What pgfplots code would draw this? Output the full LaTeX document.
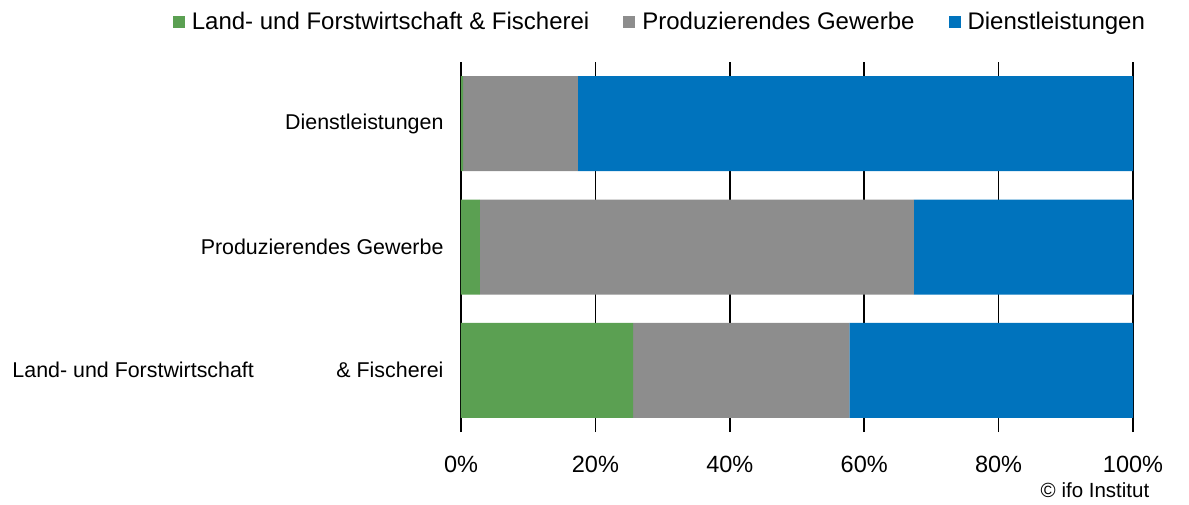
\documentclass[border=0pt]{standalone}
\usepackage{pgfplots}
\pgfplotsset{compat=1.18}
\usepackage{fontspec}
\setmainfont{Liberation Sans}
\definecolor{cgreen}{RGB}{91,160,82}
\definecolor{cgray}{RGB}{141,141,141}
\definecolor{cblue}{RGB}{0,115,189}
\begin{document}
\begin{tikzpicture}[x=1pt,y=1pt]
\useasboundingbox (0,0) rectangle (1189,-505);
\begin{axis}[
  at={(461pt,-432pt)}, anchor=south west,
  scale only axis, width=672pt, height=370pt,
  xbar stacked, bar width=95pt,
  xmin=0, xmax=100, ymin=-0.5, ymax=2.5,
  xtick={0,20,40,60,80,100},
  xticklabels={0\%,20\%,40\%,60\%,80\%,100\%},
  ytick={0,1,2},
  yticklabels={{\makebox[431pt][l]{Land- und Forstwirtschaft\hfill\& Fischerei}},Produzierendes Gewerbe,Dienstleistungen},
  major tick length=0pt,
  xmajorgrids, grid style={black, line width=1.6pt},
  axis line style={draw=none},
  xticklabel style={font=\fontsize{23.5}{26}\selectfont, yshift=-21pt},
  yticklabel style={font=\fontsize{21.4}{24}\selectfont, anchor=east, xshift=-14pt},
  legend columns=-1,
  legend style={draw=none, fill=none, at={(0.296,1.108)}, anchor=center,
    font=\fontsize{24}{27}\selectfont,
    /tikz/every even column/.append style={column sep=32pt},
    /tikz/every odd column/.append style={column sep=5pt},
    inner sep=0pt},
  legend image code/.code={\fill[#1] (0pt,-6pt) rectangle (12pt,6pt);},
]
\addplot[fill=cgreen, draw=none] coordinates {(25.6,0) (2.8,1) (0.3,2)};
\addplot[fill=cgray, draw=none] coordinates {(32.2,0) (64.6,1) (17.1,2)};
\addplot[fill=cblue, draw=none] coordinates {(42.2,0) (32.6,1) (82.6,2)};
\legend{Land- und Forstwirtschaft \& Fischerei,Produzierendes Gewerbe,Dienstleistungen}
\draw[black, line width=1.6pt] (axis cs:0,-0.5) -- (axis cs:0,2.5);
\end{axis}
\node[font=\fontsize{20.5}{23}\selectfont] at (1095,-490) {© ifo Institut};
\end{tikzpicture}
\end{document}
